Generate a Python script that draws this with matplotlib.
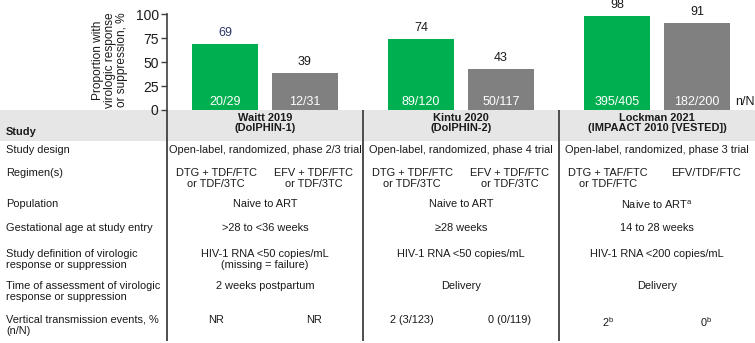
import numpy as np
import matplotlib
matplotlib.use("Agg")
import matplotlib.pyplot as plt
from matplotlib.patches import Rectangle

plt.rcParams["font.family"] = ["Liberation Sans", "DejaVu Sans"]

# bar data
studies = ["Waitt 2019\n(DolPHIN-1)", "Kintu 2020\n(DolPHIN-2)", "Lockman 2021\n(IMPAACT 2010 [VESTED])"]
dtg_pct = [69, 74, 98]
efv_pct = [39, 43, 91]
dtg_nN = ["20/29", "89/120", "395/405"]
efv_nN = ["12/31", "50/117", "182/200"]
yticks = [0, 25, 50, 75, 100]

# table rows: a string spans both arms, a tuple is (DTG arm, EFV arm)
row_labels = [
    "Study design",
    "Regimen(s)",
    "Population",
    "Gestational age at study entry",
    "Study definition of virologic\nresponse or suppression",
    "Time of assessment of virologic\nresponse or suppression",
    "Vertical transmission events, %\n(n/N)",
]
row_cells = [
    ["Open-label, randomized, phase 2/3 trial",
     "Open-label, randomized, phase 4 trial",
     "Open-label, randomized, phase 3 trial"],
    [("DTG + TDF/FTC\nor TDF/3TC", "EFV + TDF/FTC\nor TDF/3TC"),
     ("DTG + TDF/FTC\nor TDF/3TC", "EFV + TDF/FTC\nor TDF/3TC"),
     ("DTG + TAF/FTC\nor TDF/FTC", "EFV/TDF/FTC")],
    ["Naive to ART", "Naive to ART", r"Naive to ART$^{\mathregular{a}}$"],
    [">28 to <36 weeks", "≥28 weeks", "14 to 28 weeks"],
    ["HIV-1 RNA <50 copies/mL\n(missing = failure)",
     "HIV-1 RNA <50 copies/mL",
     "HIV-1 RNA <200 copies/mL"],
    ["2 weeks postpartum", "Delivery", "Delivery"],
    [("NR", "NR"), ("2 (3/123)", "0 (0/119)"),
     (r"2$^{\mathregular{b}}$", r"0$^{\mathregular{b}}$")],
]
# top of each table row, in pixels from the top of the figure
row_tops = [145, 168, 199, 223, 249, 281, 315]

W, H = 755, 343
GREEN = "#00b050"
GREY = "#808080"
TXT = "#1a1a1a"
LINE = "#404040"
FS = 7.9

fig = plt.figure(figsize=(W / 100, H / 100), dpi=100)

# bar panel
ax_l, ax_t, ax_b = 167, 14, 110
ax = fig.add_axes([ax_l / W, 1 - ax_b / H, (W - ax_l) / W, (ax_b - ax_t) / H])
x = np.arange(len(studies))
off, bw = 0.204, 0.336
ax.bar(x - off, dtg_pct, bw, color=GREEN)
ax.bar(x + off, efv_pct, bw, color=GREY)
for i in range(len(studies)):
    ax.text(x[i] - off, dtg_pct[i] + 5, str(dtg_pct[i]), ha="center", va="bottom",
            fontsize=9, color="#2b3668" if i == 0 else TXT)
    ax.text(x[i] + off, efv_pct[i] + 5, str(efv_pct[i]), ha="center", va="bottom",
            fontsize=9, color=TXT)
    ax.text(x[i] - off, 2, dtg_nN[i], ha="center", va="bottom", fontsize=9, color="white")
    ax.text(x[i] + off, 2, efv_nN[i], ha="center", va="bottom", fontsize=9, color="white")
ax.text(2.5, 2, "n/N", ha="right", va="bottom", fontsize=9, color=TXT)
ax.set_xlim(-0.5, 2.5)
ax.set_ylim(0, 100)
ax.set_yticks(yticks)
ax.set_xticks([])
for s in ["top", "right", "bottom"]:
    ax.spines[s].set_visible(False)
ax.spines["left"].set_color(LINE)
ax.spines["left"].set_linewidth(1.2)
ax.tick_params(axis="y", direction="out", length=4, width=1, color=LINE,
               labelsize=10, labelcolor=TXT, pad=2)
fig.text(110 / W, 1 - 60 / H, "Proportion with\nvirologic response\nor suppression, %",
         rotation=90, ha="center", va="center", fontsize=8.6, color=TXT, linespacing=1.0)

# table overlay in pixel coordinates
tab = fig.add_axes([0, 0, 1, 1], zorder=-1)
tab.set_xlim(0, W)
tab.set_ylim(H, 0)
tab.axis("off")
tab.add_patch(Rectangle((0, 110), W, 31, color="#e6e6e6", lw=0))

unit = (W - ax_l) / 3.0
centers = [ax_l + (i + 0.5) * unit for i in range(3)]
arm = 0.25 * unit
for xs in [ax_l, ax_l + unit, ax_l + 2 * unit]:
    tab.plot([xs, xs], [110, 341], color=LINE, lw=1.3, solid_capstyle="butt")

tab.text(6, 132, "Study", ha="left", va="center", fontsize=FS, fontweight="bold", color=TXT)
for c, s in zip(centers, studies):
    tab.text(c, 123, s, ha="center", va="center", fontsize=FS, fontweight="bold",
             color=TXT, linespacing=1.05)

for lab, cells, top in zip(row_labels, row_cells, row_tops):
    tab.text(6, top, lab, ha="left", va="top", fontsize=FS, color=TXT, linespacing=1.1)
    for c, cell in zip(centers, cells):
        if isinstance(cell, tuple):
            tab.text(c - arm, top, cell[0], ha="center", va="top", fontsize=FS,
                     color=TXT, linespacing=1.1)
            tab.text(c + arm, top, cell[1], ha="center", va="top", fontsize=FS,
                     color=TXT, linespacing=1.1)
        else:
            tab.text(c, top, cell, ha="center", va="top", fontsize=FS, color=TXT,
                     linespacing=1.1)

fig.savefig("out.png", dpi=100)
